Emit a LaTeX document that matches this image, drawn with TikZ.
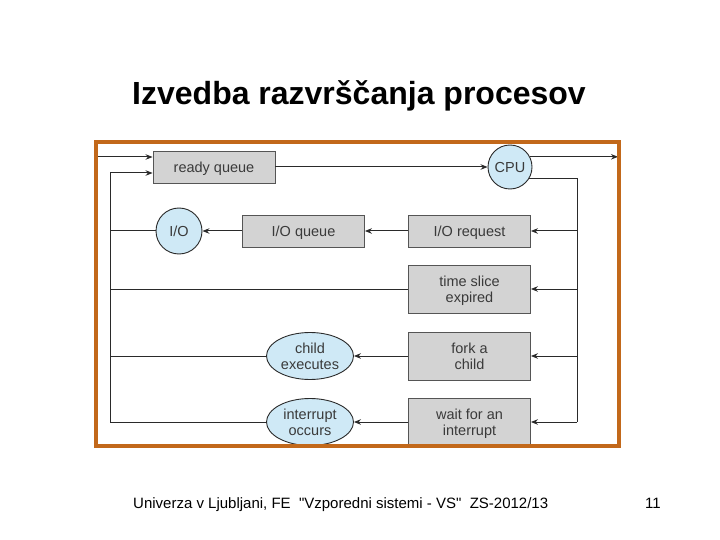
\documentclass[tikz,border=0pt]{standalone}
\usepackage{fontspec}
\setmainfont{Liberation Sans}
\newfontfamily\footfont[Ligatures=TeXOff]{Liberation Sans}
\usetikzlibrary{arrows.meta,shapes.geometric,calc}
\definecolor{frameor}{HTML}{C2681A}
\definecolor{boxgray}{HTML}{D3D3D3}
\definecolor{bluefill}{HTML}{CFE9F6}
\definecolor{linec}{HTML}{2A2A2A}
\definecolor{txt}{HTML}{3A3A3A}
\tikzset{
  box/.style={draw=linec!80, line width=0.9pt, fill=boxgray, minimum width=122pt, text=txt, font=\fontsize{14.5}{16}\selectfont, align=center, inner sep=0pt, text depth=0pt},
  circ/.style={circle, draw=linec, line width=0.9pt, fill=bluefill, text=txt, font=\fontsize{14.5}{16}\selectfont, inner sep=0pt, text height=10.5pt, text depth=0pt},
  ell/.style={ellipse, draw=linec, line width=0.9pt, fill=bluefill, text=txt, minimum width=87pt, minimum height=47pt, inner sep=0pt, align=center, font=\fontsize{14.5}{16}\selectfont, text depth=0pt},
  oneline/.style={text height=10.5pt, text depth=0pt},
  ln/.style={draw=linec, line width=1pt},
  arr/.style={ln, -{Stealth[length=7pt,width=5.5pt]}},
}
\begin{document}
\begin{tikzpicture}[x=1pt,y=-1pt]
\useasboundingbox (0,0) rectangle (720,540);
\fill[white] (0,0) rectangle (720,540);
\node[font=\bfseries\fontsize{32}{36}\selectfont, anchor=base] (title) at (359,105) {Izvedba razvrščanja procesov};

% nodes
\node[box, oneline, minimum height=32pt] (rq) at (214,167) {ready queue};
\node[circ, minimum size=44pt] (cpu) at (510,167) {CPU};
\node[circ, minimum size=46pt] (io) at (179,231) {I/O};
\node[box, oneline, minimum height=32pt] (ioq) at (303.5,231) {I/O queue};
\node[box, oneline, minimum height=32pt] (ioreq) at (469.5,231) {I/O request};
\node[box, minimum height=48pt] (ts) at (469.5,289) {time slice\\expired};
\node[box, minimum height=48pt] (fork) at (469.5,356) {fork a\\child};
\node[box, minimum height=48pt] (wfi) at (469.5,422) {wait for an\\interrupt};
\node[ell] (child) at (310,356) {child\\executes};
\node[ell] (intr) at (310,422) {interrupt\\occurs};

\coordinate (in) at (97,157);
\coordinate (out) at (618,157);
\coordinate (rbot) at (577,422);
\coordinate (lbot) at (110,422);

% connectors
\draw[arr] (in) -- (in -| rq.west);
\draw[arr] (rq.east) -- (cpu.west);
\draw[arr] (cpu.27) -- (cpu.27 -| out);
\draw[ln] (cpu.-32) -| (rbot);
\draw[arr] (ioreq.east -| rbot) -- (ioreq.east);
\draw[arr] (ts.east -| rbot) -- (ts.east);
\draw[arr] (fork.east -| rbot) -- (fork.east);
\draw[arr] (rbot) -- (wfi.east);
\draw[arr] (ioreq) -- (ioq);
\draw[arr] (ioq) -- (io);
\draw[arr] (fork) -- (child);
\draw[arr] (wfi) -- (intr);
\draw[ln] (io.west) -- (io.west -| lbot);
\draw[ln] (ts.west) -- (ts.west -| lbot);
\draw[ln] (child.west) -- (child.west -| lbot);
\draw[ln] (intr.west) -- (lbot);
\draw[arr] (lbot) |- ([yshift=-6pt]rq.west);

% frame
\draw[frameor, line width=4pt] (96,142) rectangle (619,446);

% footer
\node[anchor=base west, font=\footfont\fontsize{15}{17}\selectfont, inner sep=0pt] (foot) at (133,508) {Univerza v Ljubljani, FE \ "Vzporedni sistemi - VS" \ ZS-2012/13};
\node[anchor=base west, font=\footfont\fontsize{15}{17}\selectfont, inner sep=0pt] (pg) at (645,508) {11};
\end{tikzpicture}
\end{document}
